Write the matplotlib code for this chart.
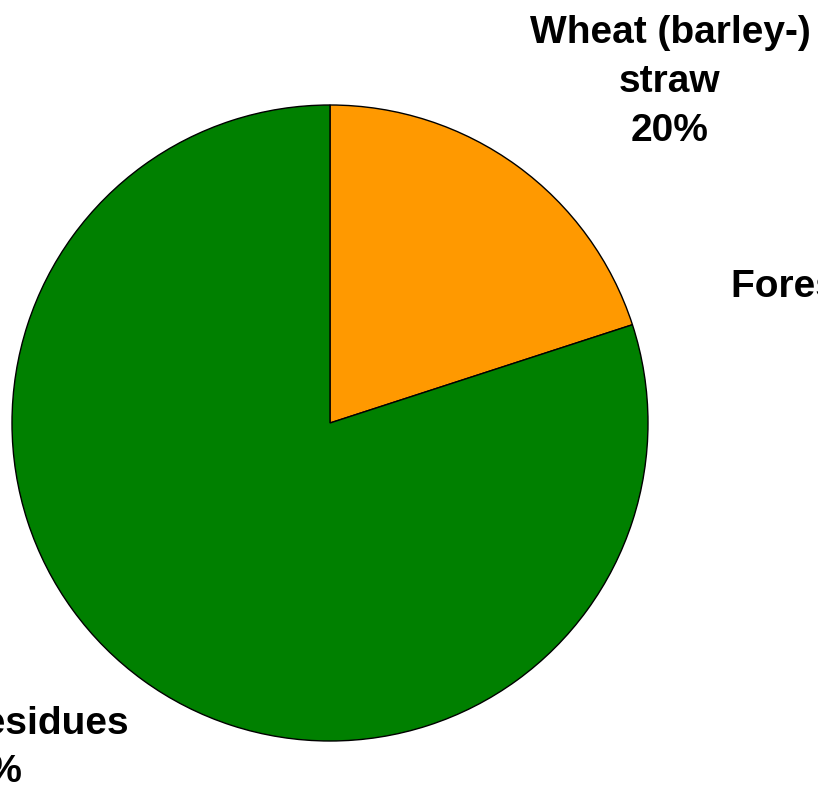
import matplotlib
matplotlib.use("Agg")
import matplotlib.pyplot as plt

categories = ["Wheat (barley-)\nstraw", "Forest residues"]
shares = [20, 80]
colors = ["#FF9900", "#008000"]
extra_label = "Forest residues"

W, H = 818, 788
CX, CY, R = 330, 423, 318

fig = plt.figure(figsize=(W / 100, H / 100), dpi=100)
ax = fig.add_axes([0, 0, 1, 1])
ax.pie(shares, colors=colors, startangle=90, counterclock=False, radius=1,
       wedgeprops=dict(edgecolor="black", linewidth=1.0))
ax.set_xlim(-CX / R, (W - CX) / R)
ax.set_ylim(-(H - CY) / R, CY / R)
ax.set_aspect("auto")
ax.axis("off")

def px(x, y):
    return (x - CX) / R, (CY - y) / R

font = dict(family=["Liberation Sans", "DejaVu Sans"], fontweight="bold", fontsize=28, linespacing=1.45)

x, y = px(670, 82)
ax.text(x, y, f"{categories[0]}\n{shares[0]}%", ha="center", va="center", **font)
x, y = px(-16, 748)
ax.text(x, y, f"{categories[1]}\n{shares[1]}%", ha="center", va="center", clip_on=False, **font)
x, y = px(731, 287)
ax.text(x, y, extra_label, ha="left", va="center", clip_on=False, **font)

fig.savefig("out.png", dpi=100)
